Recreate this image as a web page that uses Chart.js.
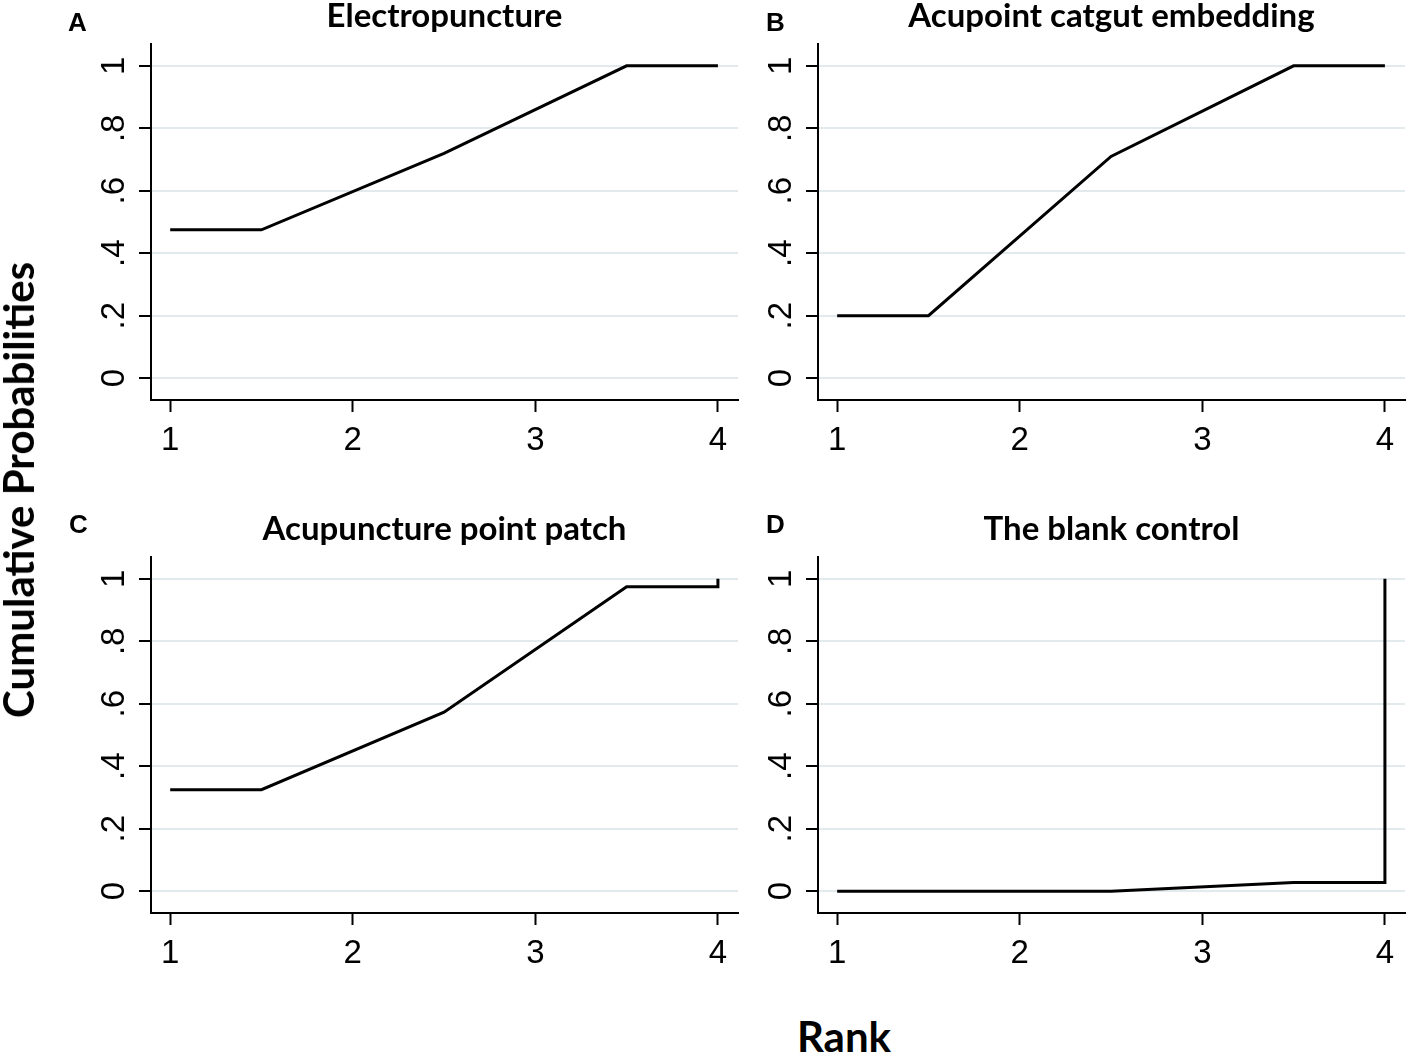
<!DOCTYPE html>
<html>
<head>
<meta charset="utf-8">
<script src="https://cdn.jsdelivr.net/npm/chart.js@4.4.0/dist/chart.umd.min.js"></script>
<style>
  body { margin: 0; background: #fff; width: 1417px; height: 1057px; position: relative; overflow: hidden; }
  .panel { position: absolute; width: 745px; height: 470px; }
  .letter { position: absolute; font-family: "Liberation Sans", Arial, sans-serif; font-weight: bold; font-size: 26px; color: #000; line-height: 1; }
  #ylab { position: absolute; left: 18px; top: 490px; transform: translate(-50%, -50%) rotate(-90deg);
          font-family: Lato, sans-serif; font-weight: bold; font-size: 42px; white-space: nowrap; color: #000; }
  #xlab { position: absolute; left: 844px; top: 1036px; transform: translate(-50%, -50%);
          font-family: Lato, sans-serif; font-weight: bold; font-size: 42px; color: #000; }
</style>
</head>
<body>
<div class="panel" style="left:0;top:0"><canvas id="chartA" width="745" height="470"></canvas></div>
<div class="panel" style="left:667px;top:0"><canvas id="chartB" width="745" height="470"></canvas></div>
<div class="panel" style="left:0;top:513px"><canvas id="chartC" width="745" height="470"></canvas></div>
<div class="panel" style="left:667px;top:513px"><canvas id="chartD" width="745" height="470"></canvas></div>

<div class="letter" style="left:68px;top:9px">A</div>
<div class="letter" style="left:766px;top:9px">B</div>
<div class="letter" style="left:69px;top:511px">C</div>
<div class="letter" style="left:766px;top:511px">D</div>
<div id="ylab">Cumulative Probabilities</div>
<div id="xlab">Rank</div>

<script>
// ranks where the cumulative curve bends (last rank repeated for the final jump)
const ranks = [1, 1.5, 2.5, 3.5, 4, 4];

// cumulative ranking probabilities
const electropuncture = [0.475, 0.475, 0.72, 1, 1, 1];
const catgutEmbedding = [0.2, 0.2, 0.71, 1, 1, 1];
const pointPatch = [0.325, 0.325, 0.573, 0.975, 0.975, 1];
const blankControl = [0, 0, 0, 0.028, 0.028, 1];

const xTicks = [1, 2, 3, 4];
const yTicks = [0, 0.2, 0.4, 0.6, 0.8, 1];
const yTickLabels = ['0', '.2', '.4', '.6', '.8', '1'];

const tickFont = { family: "'Liberation Sans', sans-serif", size: 33 };

function makePanel(id, title, values) {
    const ctx = document.getElementById(id).getContext('2d');
    return new Chart(ctx, {
        type: 'scatter',
        data: {
            datasets: [{
                data: ranks.map((r, i) => ({ x: r, y: values[i] })),
                showLine: true,
                borderColor: '#000',
                borderWidth: 3,
                pointRadius: 0,
                tension: 0
            }]
        },
        options: {
            responsive: false,
            animation: false,
            events: [],
            layout: { padding: { left: 0, right: 7, top: 0, bottom: 10 } },
            plugins: {
                legend: { display: false },
                tooltip: { enabled: false },
                title: {
                    display: true,
                    text: title,
                    fullSize: false,
                    color: '#000',
                    font: { family: 'Lato', weight: 'bold', size: 33, lineHeight: 1 },
                    padding: { top: 0, bottom: 11 }
                }
            },
            scales: {
                x: {
                    type: 'linear',
                    min: 0.895,
                    max: 4.11,
                    afterBuildTicks: s => { s.ticks = xTicks.map(v => ({ value: v })); },
                    afterFit: s => { s.height = 60; },
                    grid: { drawOnChartArea: false, tickLength: 12, tickColor: '#000', tickWidth: 2 },
                    border: { display: true, color: '#000', width: 2 },
                    ticks: {
                        color: '#000',
                        font: tickFont,
                        padding: 9,
                        maxRotation: 0,
                        autoSkip: false
                    }
                },
                y: {
                    type: 'linear',
                    min: -0.07,
                    max: 1.07,
                    afterBuildTicks: s => { s.ticks = yTicks.map(v => ({ value: v })); },
                    afterFit: s => { s.width = 151; },
                    grid: { color: '#e3eaed', lineWidth: 2, tickLength: 12, tickColor: '#000', tickWidth: 2 },
                    border: { display: true, color: '#000', width: 2 },
                    ticks: {
                        color: '#000',
                        font: tickFont,
                        minRotation: 90,
                        maxRotation: 90,
                        crossAlign: 'center',
                        padding: 10,
                        autoSkip: false,
                        callback: (v, i) => yTickLabels[i]
                    }
                }
            }
        }
    });
}

makePanel('chartA', 'Electropuncture', electropuncture);
makePanel('chartB', 'Acupoint catgut embedding', catgutEmbedding);
makePanel('chartC', 'Acupuncture point patch', pointPatch);
makePanel('chartD', 'The blank control', blankControl);
</script>
</body>
</html>
